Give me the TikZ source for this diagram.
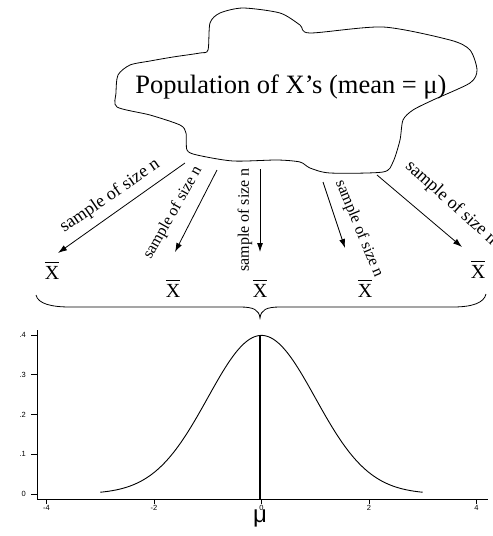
\documentclass[tikz,border=0pt]{standalone}
\usepackage{fontspec}
\setmainfont{Liberation Serif}
\newfontfamily\axisfont{Liberation Sans}
\usetikzlibrary{arrows.meta}
\newcommand{\xbarsym}{\makebox[0pt][l]{\rule[0.82em]{0.72em}{0.05em}}X}
\begin{document}
\begin{tikzpicture}[x=1pt,y=-1pt,
  samparrow/.style={-{Latex[length=9pt,width=6pt]}, line width=0.8pt},
  smalllab/.style={inner sep=0pt, font=\fontsize{16}{16}\selectfont},
  biglab/.style={inner sep=0pt, font=\fontsize{18}{18}\selectfont},
  xbarnode/.style={inner sep=0pt, anchor=base, font=\fontsize{20}{20}\selectfont},
  ticklab/.style={inner sep=0pt, font=\axisfont\fontsize{7.5}{7.5}\selectfont},
  axisline/.style={line width=0.8pt}]
\useasboundingbox (0,0) rectangle (493,536);

% cloud
\draw[line width=0.8pt] plot[smooth cycle, tension=0.45] coordinates {
  (117,107) (150,115) (180,125) (186,133) (187,150) (197,155) (233,161)
  (277,160) (300,162) (310,168) (330,173) (383,172) (393,162) (400,140)
  (403,120) (413,110) (433,100) (470,83) (477,70) (470,50) (450,40)
  (383,27) (310,33) (300,25) (280,13) (243,8) (220,13) (210,23)
  (208,50) (200,53) (173,57) (150,61) (130,65) (118,75) (116,93)};
\node[inner sep=0pt, anchor=base, font=\fontsize{26.5}{26.5}\selectfont] (pop) at (291,93) {Population of X’s (mean = μ)};

% sample means
\node[xbarnode] (x1) at (52,279) {\xbarsym};
\node[xbarnode] (x2) at (173,297) {\xbarsym};
\node[xbarnode] (x3) at (260,297) {\xbarsym};
\node[xbarnode] (x4) at (365,297) {\xbarsym};
\node[xbarnode] (x5) at (478,278) {\xbarsym};

% arrows
\coordinate (s1) at (185,163); \coordinate (e1) at (58,253);
\coordinate (s2) at (217,170); \coordinate (e2) at (175,252);
\coordinate (s3) at (260,169); \coordinate (e3) at (260,252);
\coordinate (s4) at (323,182); \coordinate (e4) at (345,248);
\coordinate (s5) at (377,175); \coordinate (e5) at (462,247);
\draw[samparrow] (s1) -- (e1);
\draw[samparrow] (s2) -- (e2);
\draw[samparrow] (s3) -- (e3);
\draw[samparrow] (s4) -- (e4);
\draw[samparrow] (s5) -- (e5);

\node[biglab, rotate=34.4] (l1) at (110,196) {sample of size n};
\node[smalllab, rotate=60.5] (l2) at (173,213) {sample of size n};
\node[smalllab, rotate=90] (l3) at (245,220) {sample of size n};
\node[smalllab, rotate=-67.6] (l4) at (359,229) {sample of size n};
\node[biglab, rotate=-42] (l5) at (451,203) {sample of size n};

% brace
\draw[line width=0.8pt] (36,295) .. controls (38,304) and (52,307) .. (70,307)
  -- (240,307) .. controls (254,307) and (259,310) .. (260,318)
  .. controls (261,310) and (266,307) .. (280,307)
  -- (453,307) .. controls (472,307) and (484,303) .. (486,294);

% axes
\coordinate (origin) at (37,499);
\coordinate (ytop) at (37,330);
\coordinate (xend) at (488,499);
\draw[axisline] (ytop) -- (origin) -- (xend);
\foreach \v/\lab in {0/0,1/.1,2/.2,3/.3,4/.4}{
  \draw[axisline] (31,{494-39.75*\v}) -- (37,{494-39.75*\v});
  \node[ticklab, anchor=east] (yl\v) at (26,{494-39.75*\v}) {\lab};
}
\foreach \t/\lab in {-4/-4,-2/-2,0/0,2/2,4/4}{
  \draw[axisline] ({261.5+53.75*\t},499) -- ({261.5+53.75*\t},504);
  \node[ticklab] (xl\lab) at ({261.5+53.75*\t},508) {\lab};
}
% density
\draw[line width=0.9pt] plot[domain=-3:3, samples=120, smooth]
  ({261.5+53.75*\x}, {494-397.5*exp(-\x*\x/2)/sqrt(2*pi)});
\coordinate (peak) at (260,336);
\coordinate (base) at (260,499);
\draw[line width=2.4pt] (base) -- (peak);
\node[inner sep=0pt, anchor=base, font=\axisfont\fontsize{24}{24}\selectfont] (mu) at (260,522) {μ};
\end{tikzpicture}
\end{document}
